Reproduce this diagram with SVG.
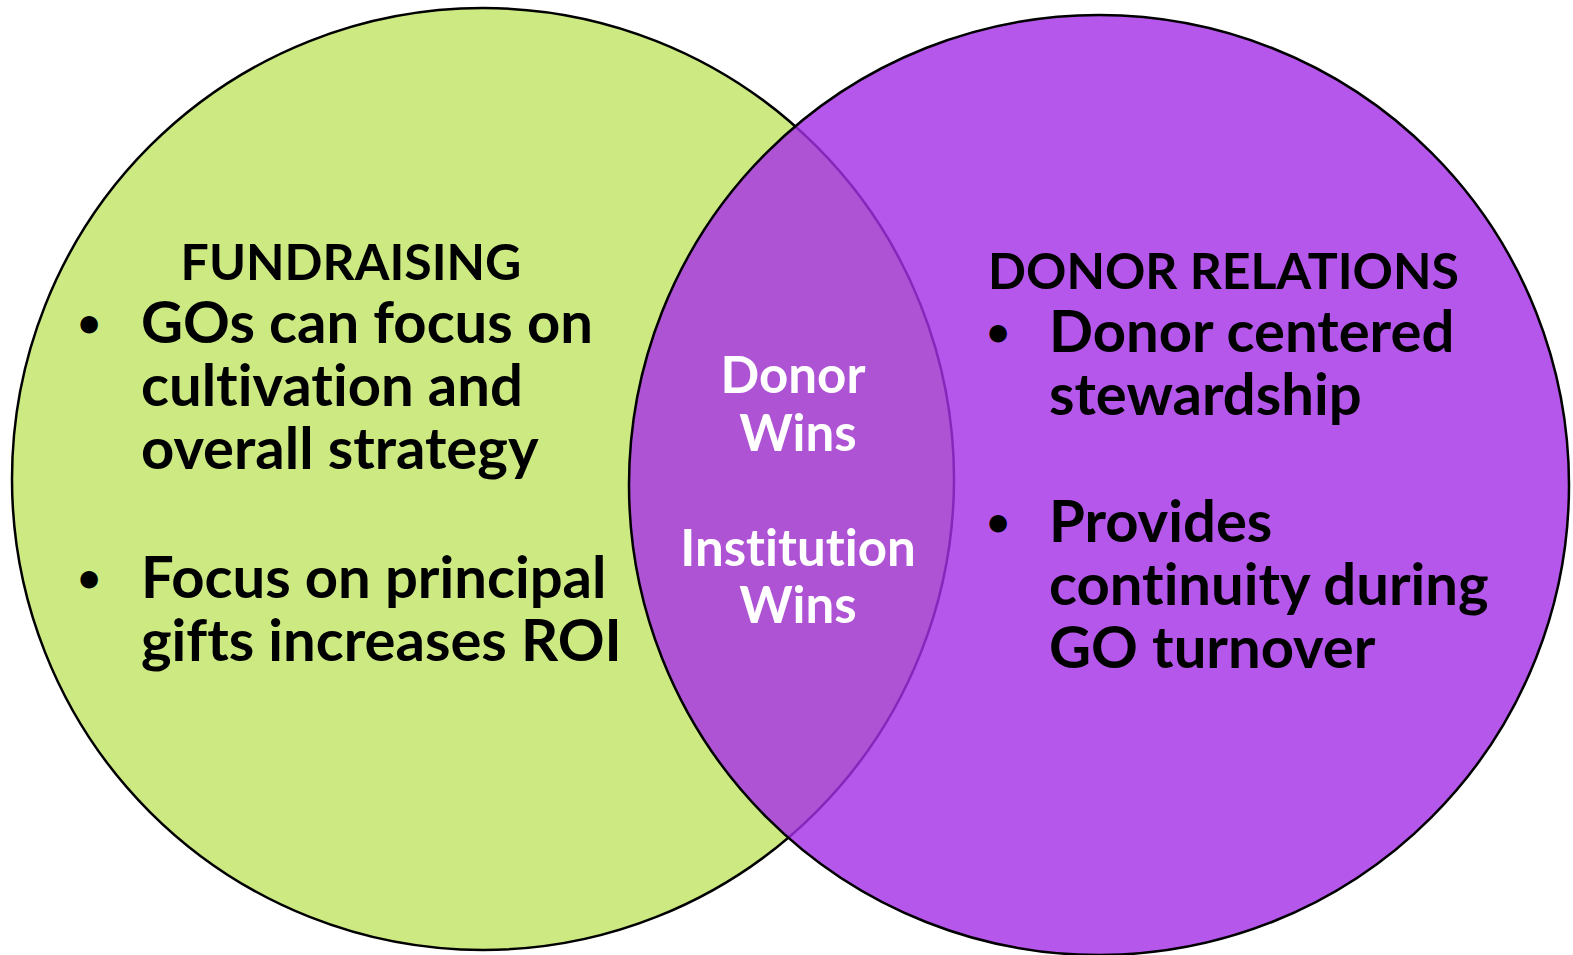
<svg xmlns="http://www.w3.org/2000/svg" width="1573" height="955" viewBox="0 0 1573 955">
<style>
text{font-variant-ligatures:none}
.t{font-family:Lato,"Open Sans","Liberation Sans",sans-serif;font-weight:bold;fill:#000}
.h{font-size:50px}
.b{font-size:58px}
.d{font-size:40px;text-anchor:middle}
.w{font-family:Lato,"Open Sans","Liberation Sans",sans-serif;font-weight:bold;fill:#fff;font-size:51px;text-anchor:middle}
</style>
<rect width="1573" height="955" fill="#fff"/>
<g id="fundraising">
<circle cx="483" cy="479" r="471" fill="#CCE982" stroke="#000" stroke-width="2.5"/>
</g>
<g id="donor-relations">
<circle cx="1099" cy="485" r="470" fill="#A530E7" fill-opacity="0.81" stroke="#000" stroke-width="2.5"/>
</g>
<g id="fundraising-text">
<text class="t h" x="351" y="280" text-anchor="middle">FUNDRAISING</text>
<text class="t d" x="89" y="337">•</text>
<text class="t b" x="141" y="343">GOs can focus on</text>
<text class="t b" x="141" y="406">cultivation and</text>
<text class="t b" x="141" y="469">overall strategy</text>
<text class="t d" x="89" y="592">•</text>
<text class="t b" x="141" y="598">Focus on principal</text>
<text class="t b" x="141" y="661">gifts increases ROI</text>
</g>
<g id="overlap-text">
<text class="w" x="793" y="393">Donor</text>
<text class="w" x="798" y="451">Wins</text>
<text class="w" x="798" y="566">Institution</text>
<text class="w" x="798" y="623">Wins</text>
</g>
<g id="donor-relations-text">
<text class="t h" x="988" y="289">DONOR RELATIONS</text>
<text class="t d" x="998" y="346">•</text>
<text class="t b" x="1049" y="352">Donor centered</text>
<text class="t b" x="1049" y="415">stewardship</text>
<text class="t d" x="998" y="536">•</text>
<text class="t b" x="1049" y="542">Provides</text>
<text class="t b" x="1049" y="605">continuity during</text>
<text class="t b" x="1049" y="668">GO turnover</text>
</g>
<g id="connectors"/>
</svg>
